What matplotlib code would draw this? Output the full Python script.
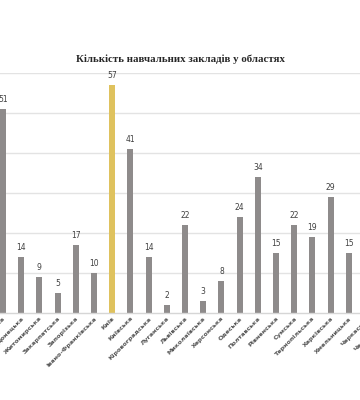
import matplotlib.pyplot as plt

regions = ['Дніпропетровська', 'Донецька', 'Житомирська', 'Закарпатська',
           'Запорізька', 'Івано-Франківська', 'Київ', 'Київська',
           'Кіровоградська', 'Луганська', 'Львівська', 'Миколаївська',
           'Херсонська', 'Одеська', 'Полтавська', 'Рівненська', 'Сумська',
           'Тернопільська', 'Харківська', 'Хмельницька', 'Черкаська',
           'Чернівецька']
counts = [51, 14, 9, 5, 17, 10, 57, 41, 14, 2, 22, 3, 8, 24, 34, 15, 22,
          19, 29, 15, 16, 11]
highlight = 'Київ'

grey = '#8e8b8b'
gold = '#dfc25e'
colors = [gold if r == highlight else grey for r in regions]

# the reference is a crop of a wider chart: the axes run past the right edge
step = 18.2  # px per category
xmin, xmax = -0.165, len(regions) - 0.3
fig = plt.figure(figsize=(3.6, 4), dpi=100)
ax = fig.add_axes([0, 87 / 400, (xmax - xmin) * step / 360, 240 / 400])

x = list(range(len(regions)))
ax.bar(x, counts, width=0.33, color=colors, zorder=2)

for xi, v in zip(x, counts):
    ax.text(xi, v + 1.2, str(v), ha='center', va='bottom', fontsize=5.5,
            color='#404040')

ax.set_yticks(range(10, 61, 10))
ax.yaxis.grid(True, color='#e3e3e3', lw=1, zorder=0)
ax.tick_params(axis='y', left=False, labelleft=False)
ax.tick_params(axis='x', length=0, pad=2)
ax.set_xticks(x)
ax.set_xticklabels(regions, rotation=45, ha='right', rotation_mode='anchor',
                   fontsize=4.6, fontweight='bold', color='#555555')
ax.set_xlim(xmin, xmax)
ax.set_ylim(0, 60)
for s in ['top', 'left', 'right']:
    ax.spines[s].set_visible(False)
ax.spines['bottom'].set_color('#d6d6d6')
ax.spines['bottom'].set_linewidth(1)

fig.text(0.5, 1 - 59 / 400, 'Кількість навчальних закладів у областях',
         ha='center', va='center', fontsize=7.8, fontweight='bold',
         family='Liberation Serif', color='#262626')

fig.savefig('out.png', dpi=100)
